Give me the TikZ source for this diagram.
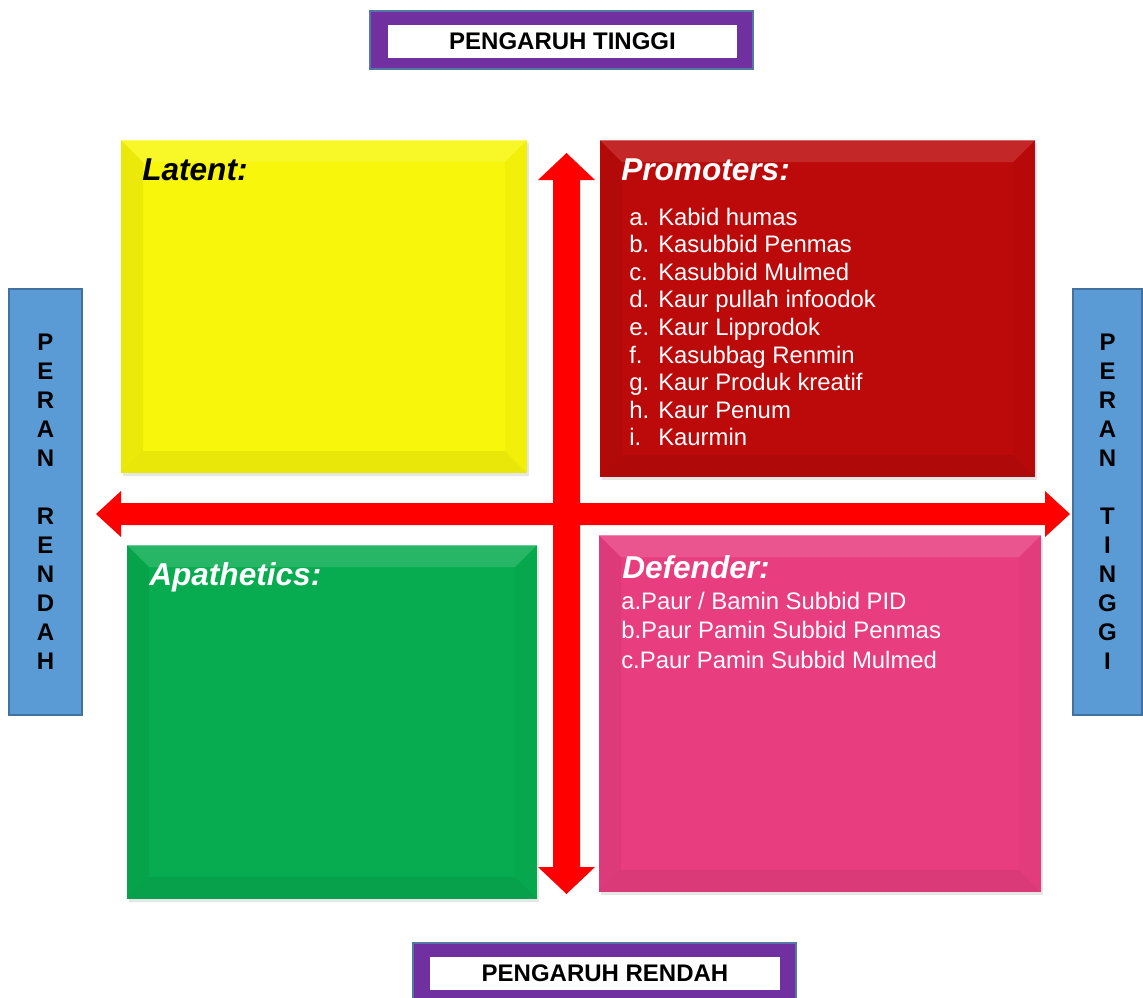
\documentclass[tikz,border=0pt]{standalone}
\usepackage{fontspec}
\setmainfont{Liberation Sans}
\usetikzlibrary{shadows}
\definecolor{latentyellow}{RGB}{248,246,10}
\definecolor{promotersred}{RGB}{188,10,10}
\definecolor{apatheticsgreen}{RGB}{8,172,80}
\definecolor{defenderpink}{RGB}{232,62,128}
\definecolor{framepurple}{RGB}{112,48,160}
\definecolor{frameedge}{RGB}{84,120,164}
\definecolor{sideblue}{RGB}{91,155,213}
\definecolor{sideedge}{RGB}{65,113,156}
\definecolor{crossred}{RGB}{255,0,0}
\tikzset{
  quadrant/.style={rectangle, inner sep=0pt, outer sep=0pt,
    drop shadow={shadow xshift=1.5pt, shadow yshift=-2.5pt, opacity=.2}},
  quadhead/.style={anchor=base west, inner sep=0pt,
    font=\fontsize{23.7}{28}\selectfont\bfseries\itshape},
  quaditem/.style={anchor=base west, inner sep=0pt, text=white,
    font=\fontsize{17.9}{21}\selectfont},
  sidebar/.style={rectangle, fill=sideblue, draw=sideedge, line width=1.2pt,
    inner sep=0pt, align=center, font=\fontsize{18}{21.75}\selectfont\bfseries},
  pengaruh/.style={rectangle, fill=white, inner sep=0pt,
    font=\fontsize{18}{21}\selectfont\bfseries},
  pengframe/.style={fill=framepurple, draw=frameedge, line width=1.2pt}
}
% bevel of a quadrant: #1 node name, #2 bevel width (px)
\newcommand{\quadbevel}[2]{%
  \fill[white, opacity=.12] (#1.north west) -- (#1.north east)
    -- ([shift={(-#2,#2)}]#1.north east) -- ([shift={(#2,#2)}]#1.north west) -- cycle;
  \fill[black, opacity=.05] (#1.north west) -- ([shift={(#2,#2)}]#1.north west)
    -- ([shift={(#2,-#2)}]#1.south west) -- (#1.south west) -- cycle;
  \fill[black, opacity=.025] (#1.north east) -- ([shift={(-#2,#2)}]#1.north east)
    -- ([shift={(-#2,-#2)}]#1.south east) -- (#1.south east) -- cycle;
  \fill[black, opacity=.06] (#1.south west) -- ([shift={(#2,-#2)}]#1.south west)
    -- ([shift={(-#2,-#2)}]#1.south east) -- (#1.south east) -- cycle;
  \draw[white, opacity=.3, line width=1.2pt] (#1.north west) -- (#1.north east);
}

\begin{document}
\begin{tikzpicture}[x=0.75pt, y=-0.75pt]
  \useasboundingbox (0,0) rectangle (1143,997);
  \clip (0,0) rectangle (1143,997);

  % red cross of arrows
  \fill[crossred] (566.5,153) -- (595,180) -- (580,180) -- (580,503)
    -- (1045,503) -- (1045,491) -- (1070,514) -- (1045,537) -- (1045,525)
    -- (580,525) -- (580,867) -- (595,867) -- (566.5,894) -- (538,867)
    -- (553,867) -- (553,525) -- (121,525) -- (121,537) -- (96,514)
    -- (121,491) -- (121,503) -- (553,503) -- (553,180) -- (538,180) -- cycle;

  % quadrants
  \node[quadrant, fill=latentyellow, minimum width=304.5pt, minimum height=249.75pt]
    (latent) at (324,306.5) {};
  \node[quadrant, fill=promotersred, minimum width=326.25pt, minimum height=252.75pt]
    (promoters) at (817.5,308.5) {};
  \node[quadrant, fill=apatheticsgreen, minimum width=307.5pt, minimum height=265.5pt]
    (apathetics) at (332,722) {};
  \node[quadrant, fill=defenderpink, minimum width=331.5pt, minimum height=267.75pt]
    (defender) at (820,713.5) {};
  \quadbevel{latent}{22}
  \quadbevel{promoters}{22}
  \quadbevel{apathetics}{22}
  \quadbevel{defender}{22}

  \node[quadhead] (latenthead) at (142,180) {Latent:};
  \node[quadhead, text=white] (promotershead) at (621,180) {Promoters:};
  \node[quadhead, text=white] (apatheticshead) at (149,585) {Apathetics:};
  \node[quadhead, text=white] (defenderhead) at (622,578) {Defender:};

  \foreach \lbl/\txt [count=\i] in {a./Kabid humas, b./Kasubbid Penmas,
      c./Kasubbid Mulmed, d./Kaur pullah infoodok, e./Kaur Lipprodok,
      f./Kasubbag Renmin, g./Kaur Produk kreatif, h./Kaur Penum, i./Kaurmin}
  {
    \node[quaditem] (promlbl\i) at (629,197.4+27.6*\i) {\lbl};
    \node[quaditem] (promitem\i) at (658,197.4+27.6*\i) {\txt};
  }
  \foreach \txt [count=\i] in {{a.Paur / Bamin Subbid PID},
      {b.Paur Pamin Subbid Penmas}, {c.Paur Pamin Subbid Mulmed}}
    \node[quaditem] (defitem\i) at (621,579.5+29.5*\i) {\txt};

  % side bars
  \node[sidebar, minimum width=54.75pt, minimum height=319.5pt] (peranrendah)
    at (45.5,502) {P\\E\\R\\A\\N\\[21.75pt]R\\E\\N\\D\\A\\H};
  \node[sidebar, minimum width=51.75pt, minimum height=319.5pt] (perantinggi)
    at (1107.5,502) {P\\E\\R\\A\\N\\[21.75pt]T\\I\\N\\G\\G\\I};

  % top and bottom labels
  \fill[pengframe] (370,11) rectangle (753,69);
  \node[pengaruh, minimum width=261.75pt, minimum height=24.75pt] (pengtinggi)
    at (562.5,41.5) {PENGARUH TINGGI};
  \fill[pengframe] (413,943) rectangle (796,1010);
  \node[pengaruh, minimum width=262.5pt, minimum height=24.75pt] (pengrendah)
    at (605,973.5) {PENGARUH RENDAH};
\end{tikzpicture}
\end{document}
